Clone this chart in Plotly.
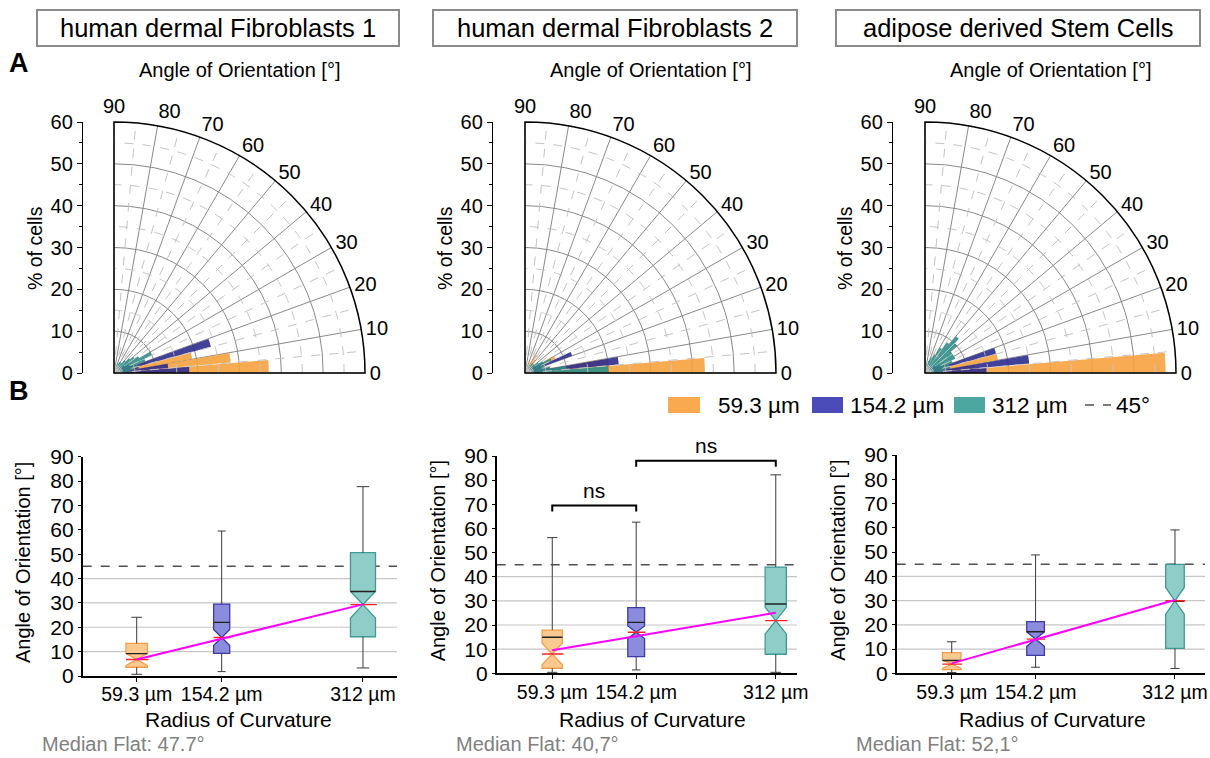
import numpy as np
import plotly.graph_objects as go

W, H = 1210, 758
FONT = "Liberation Sans, Arial, sans-serif"

# ---------------- data ----------------
panel_titles = ["human dermal Fibroblasts 1", "human dermal Fibroblasts 2", "adipose derived Stem Cells"]
radii = [59.3, 154.2, 312]
radius_labels = ["59.3 µm", "154.2 µm", "312 µm"]
angle_ticks = [0, 10, 20, 30, 40, 50, 60, 70, 80, 90]
cells_ticks = [0, 10, 20, 30, 40, 50, 60]
bin_centers = [2.5, 7.5, 12.5, 17.5, 22.5, 27.5, 32.5, 37.5, 42.5,
               47.5, 52.5, 57.5, 62.5, 67.5, 72.5, 77.5, 82.5, 87.5]

# rose histograms (% of cells per 5° bin)
rose_hdf1_593 = [37, 28, 19, 8, 4, 3, 2, 1.5, 1, 1, 0.5, 0.5, 0.5, 0, 0, 0, 0, 0]
rose_hdf1_1542 = [18, 13, 6, 24, 5, 4, 3, 2, 2, 1.5, 1, 1, 1, 1, 0.5, 0.5, 0.5, 0.5]
rose_hdf1_312 = [3, 4, 5, 6, 8, 10, 7, 6, 5, 4, 3, 3, 3, 2.5, 2, 2, 1.5, 1.5]

rose_hdf2_593 = [43, 20, 6, 3, 4, 8, 3, 2, 2, 1, 4, 5, 3, 1, 1, 0.5, 0.5, 0.5]
rose_hdf2_1542 = [5, 22.5, 6, 4, 12, 5, 3, 2, 2, 1, 1, 1, 1, 0.5, 0.5, 0.5, 0.5, 0.5]
rose_hdf2_312 = [20, 10, 6, 5, 5, 7, 5, 4, 3, 3, 3, 2, 2, 2, 1.5, 1, 1, 1]

rose_adsc_593 = [57.5, 12, 17.7, 5, 3, 2, 2, 1, 1, 1, 0.5, 0.5, 0.5, 0, 0, 0, 0, 0]
rose_adsc_1542 = [14.7, 25, 6, 17.6, 5, 4, 3, 2, 2, 1.5, 1, 1, 1, 0.5, 0.5, 0.5, 0.5, 0.5]
rose_adsc_312 = [4, 5, 6, 6, 7, 8, 8, 8, 10, 11.5, 9, 7, 5, 4, 3, 2, 1.5, 1]

# box statistics (angle of orientation, degrees)
hdf1_q1 = [3.6, 9.3, 16.1]
hdf1_median = [6.8, 15.8, 29.3]
hdf1_q3 = [13.4, 29.5, 50.6]
hdf1_mean = [9.2, 22.0, 34.7]
hdf1_low = [0.7, 1.8, 3.3]
hdf1_high = [24.1, 59.5, 77.7]
hdf1_notch = [2.5, 3.3, 5.5]
hdf1_trend = [6.8, 29.4]

hdf2_q1 = [2.1, 6.9, 7.9]
hdf2_median = [8.0, 17.0, 21.8]
hdf2_q3 = [17.9, 27.2, 44.0]
hdf2_mean = [14.9, 21.1, 28.7]
hdf2_low = [0.4, 1.4, 0.4]
hdf2_high = [56.2, 62.6, 82.2]
hdf2_notch = [4.5, 2.6, 5.5]
hdf2_trend = [9.5, 25.1]

adsc_q1 = [1.5, 7.4, 10.3]
adsc_median = [3.8, 14.1, 29.9]
adsc_q3 = [8.5, 21.3, 44.9]
adsc_mean = [5.3, 17.1, 29.7]
adsc_low = [0.3, 2.5, 2.0]
adsc_high = [13.0, 48.8, 59.1]
adsc_notch = [1.8, 3.0, 5.5]
adsc_trend = [4.1, 30.2]

trend_x = [59.3, 312]
grid_lines = [10, 20, 30, 40]
reference_angle = 45
median_flat = ["Median Flat: 47.7°", "Median Flat: 40,7°", "Median Flat: 52,1°"]
ns_pairs = [(59.3, 154.2, 69.5), (154.2, 312, 88.0)]

roses = [
    [rose_hdf1_593, rose_hdf1_1542, rose_hdf1_312],
    [rose_hdf2_593, rose_hdf2_1542, rose_hdf2_312],
    [rose_adsc_593, rose_adsc_1542, rose_adsc_312],
]
boxes = [
    dict(q1=hdf1_q1, med=hdf1_median, q3=hdf1_q3, mean=hdf1_mean, lo=hdf1_low, hi=hdf1_high, notch=hdf1_notch, trend=hdf1_trend),
    dict(q1=hdf2_q1, med=hdf2_median, q3=hdf2_q3, mean=hdf2_mean, lo=hdf2_low, hi=hdf2_high, notch=hdf2_notch, trend=hdf2_trend),
    dict(q1=adsc_q1, med=adsc_median, q3=adsc_q3, mean=adsc_mean, lo=adsc_low, hi=adsc_high, notch=adsc_notch, trend=adsc_trend),
]

# ---------------- style / layout ----------------
rose_colors = ["#F7A23F", "#2E2C8E", "#2B8F89"]
legend_colors = ["#F9A94E", "#4A4AB8", "#4DA7A1"]
box_fill = ["#F9C990", "#8C8CDC", "#8FCDC9"]
box_line = ["#F0A04B", "#3B3BAA", "#3D9A94"]
box_widths = [[24, 18, 28], [23, 19, 24], [21, 20, 21]]

polar_origin_x = [114, 525, 925]
polar_r_px = 251
polar_origin_y = 373
cells_axis_x = [83, 493, 893]
box_px_x = [(82.7, 397), (496.7, 797), (896.7, 1205)]
box_px_y = [(456.7, 676), (456, 673.3), (455, 673.3)]
box_xrange = [[-1, 350], [-3.5, 336], [-3, 346]]


def px(x):
    return x / W


def py(y):
    return 1 - y / H


def note(text, x, y, size, color="black", angle=0, xanchor="center", yanchor="middle"):
    return dict(text=text, x=px(x), y=py(y), xref="paper", yref="paper", showarrow=False,
                xanchor=xanchor, yanchor=yanchor, textangle=angle,
                font=dict(size=size, color=color, family=FONT))


fig = go.Figure()
annotations = []
shapes = []

minor_r = [5, 15, 25, 35, 45, 55]
minor_theta = [5, 15, 25, 35, 45, 55, 65, 75, 85]
arc_theta = list(np.linspace(0, 90, 91))

for i in range(3):
    sp = "polar" if i == 0 else f"polar{i+1}"
    # bars
    for k in range(3):
        fig.add_trace(go.Barpolar(
            r=roses[i][k], theta=bin_centers, width=4.6,
            marker=dict(color=rose_colors[k], line=dict(width=0)),
            opacity=0.9, subplot=sp, showlegend=False, hoverinfo="skip"))
    # dashed minor grid
    rr, tt = [], []
    for r in minor_r:
        rr += [r] * len(arc_theta) + [None]
        tt += arc_theta + [None]
    for t in minor_theta:
        rr += [0, 60, None]
        tt += [t, t, None]
    fig.add_trace(go.Scatterpolar(r=rr, theta=tt, mode="lines",
                                  line=dict(color="#c4c4c4", width=1, dash="dash"),
                                  subplot=sp, showlegend=False, hoverinfo="skip"))

    x0 = polar_origin_x[i]
    dom = dict(x=[px(x0), px(x0 + polar_r_px)], y=[py(polar_origin_y), py(polar_origin_y - polar_r_px)])
    fig.update_layout(**{sp: dict(
        domain=dom, sector=[0, 90], bgcolor="white", barmode="overlay",
        radialaxis=dict(range=[0, 60], tickmode="array", tickvals=cells_ticks[1:],
                        showticklabels=False, ticks="", showline=False,
                        gridcolor="#8a8a8a", gridwidth=1),
        angularaxis=dict(tickmode="array", tickvals=angle_ticks,
                         ticktext=[str(a) for a in angle_ticks],
                         direction="counterclockwise", rotation=0,
                         showline=True, linecolor="black", linewidth=1.5,
                         gridcolor="#8a8a8a", gridwidth=1, ticks="",
                         tickfont=dict(size=20, color="black", family=FONT)),
    )})

    # left "% of cells" axis (cartesian)
    xa = f"xaxis{i+4}"
    ya = f"yaxis{i+4}"
    fig.add_trace(go.Scatter(x=[0], y=[0], xaxis=f"x{i+4}", yaxis=f"y{i+4}",
                             mode="markers", marker=dict(opacity=0),
                             showlegend=False, hoverinfo="skip"))
    fig.update_layout(**{
        xa: dict(domain=[px(cells_axis_x[i]), px(cells_axis_x[i] + 10)], visible=False, range=[0, 1],
                 anchor=f"y{i+4}", automargin=False),
        ya: dict(domain=dom["y"], range=[0, 60], anchor=f"x{i+4}", side="left", automargin=False,
                 tickmode="array", tickvals=cells_ticks, showline=True, linecolor="black",
                 linewidth=1.3, ticks="outside", ticklen=5, tickcolor="black",
                 minor=dict(tickvals=[5, 15, 25, 35, 45, 55], ticks="outside", ticklen=3, tickcolor="black"),
                 showgrid=False, zeroline=False,
                 tickfont=dict(size=20, color="black", family=FONT)),
    })
    annotations.append(note("% of cells", cells_axis_x[i] - 48, 248, 19.5, angle=-90))
    annotations.append(note("Angle of Orientation [°]", x0 + 125, 70, 20))

    # title box
    bx0, bx1 = [(37, 399), (433, 797), (836, 1200)][i]
    shapes.append(dict(type="rect", xref="paper", yref="paper", x0=px(bx0), x1=px(bx1), y0=py(46), y1=py(10),
                       line=dict(color="#8a8a8a", width=2), fillcolor="white"))
    annotations.append(note(panel_titles[i], (bx0 + bx1) / 2, 28, 25.5))

    # ---------- box plots ----------
    xr = f"x{i+1}" if i > 0 else "x"
    yr = f"y{i+1}" if i > 0 else "y"
    b = boxes[i]
    whx, why = [], []
    for j in range(3):
        c = radii[j]
        hw = box_widths[i][j] * 0.25
        whx += [c, c, None, c, c, None, c - hw, c + hw, None, c - hw, c + hw, None]
        why += [b["q3"][j], b["hi"][j], None, b["lo"][j], b["q1"][j], None,
                b["hi"][j], b["hi"][j], None, b["lo"][j], b["lo"][j], None]
    fig.add_trace(go.Scatter(x=whx, y=why, xaxis=xr, yaxis=yr, mode="lines",
                             line=dict(color="#3a3a3a", width=1), showlegend=False, hoverinfo="skip"))
    for j in range(3):
        fig.add_trace(go.Box(
            x=[radii[j]], q1=[b["q1"][j]], median=[b["med"][j]], q3=[b["q3"][j]],
            lowerfence=[b["q1"][j]], upperfence=[b["q3"][j]], notchspan=[b["notch"][j]],
            notched=True, notchwidth=0.5, width=box_widths[i][j], whiskerwidth=0,
            fillcolor=box_fill[j], line=dict(color=box_line[j], width=1.3),
            boxpoints=False, xaxis=xr, yaxis=yr, showlegend=False, hoverinfo="skip"))
    mx, my, rx, ry = [], [], [], []
    for j in range(3):
        c = radii[j]
        hw = box_widths[i][j] / 2
        mx += [c - hw, c + hw, None]
        my += [b["mean"][j], b["mean"][j], None]
        rx += [c - hw, c + hw * 1.1, None]
        ry += [b["med"][j], b["med"][j], None]
    fig.add_trace(go.Scatter(x=mx, y=my, xaxis=xr, yaxis=yr, mode="lines",
                             line=dict(color="#222222", width=1.4), showlegend=False, hoverinfo="skip"))
    fig.add_trace(go.Scatter(x=rx, y=ry, xaxis=xr, yaxis=yr, mode="lines",
                             line=dict(color="#FF2020", width=1.4), showlegend=False, hoverinfo="skip"))
    fig.add_trace(go.Scatter(x=trend_x, y=b["trend"], xaxis=xr, yaxis=yr, mode="lines",
                             line=dict(color="#FF00FF", width=2), showlegend=False, hoverinfo="skip"))

    (bxa, bxb), (bya, byb) = box_px_x[i], box_px_y[i]
    fig.update_layout(**{
        ("xaxis" if i == 0 else f"xaxis{i+1}"): dict(
            domain=[px(bxa), px(bxb)], range=box_xrange[i], anchor=yr, automargin=False,
            tickmode="array", tickvals=radii, ticktext=radius_labels,
            showline=True, linecolor="black", linewidth=1.6, ticks="outside", ticklen=4,
            tickcolor="black", showgrid=False, zeroline=False, ticklabelstandoff=-4,
            tickfont=dict(size=19.5, color="black", family=FONT)),
        ("yaxis" if i == 0 else f"yaxis{i+1}"): dict(
            domain=[py(byb), py(bya)], range=[0, 90], anchor=xr, automargin=False,
            tickmode="array", tickvals=angle_ticks,
            showline=True, linecolor="black", linewidth=1.6, ticks="outside", ticklen=3,
            tickcolor="black", showgrid=False, zeroline=False,
            tickfont=dict(size=21, color="black", family=FONT)),
    })
    for g in grid_lines:
        shapes.append(dict(type="line", xref=f"{xr} domain", yref=yr, x0=0, x1=1, y0=g, y1=g,
                           line=dict(color="#c6c6c6", width=1.2), layer="below"))
    shapes.append(dict(type="line", xref=f"{xr} domain", yref=yr, x0=0, x1=1,
                       y0=reference_angle, y1=reference_angle,
                       line=dict(color="#505050", width=1.5, dash="dash"), layer="below"))
    annotations.append(note("Angle of Orientation [°]", bxa - 59, (bya + byb) / 2 - 4, 20, angle=-90))
    annotations.append(note("Radius of Curvature", bxa + 156, 719, 21))
    annotations.append(note(median_flat[i], bxa - 43, 744, 20, color="#808080", xanchor="left"))

# significance brackets (panel 2)
bkx, bky = [], []
for a, c, yv in ns_pairs:
    bkx += [a, a, c, c, None]
    bky += [yv - 2.5, yv, yv, yv - 2.5, None]
    annotations.append(dict(text="ns", x=(a + c) / 2, y=yv + 0.8, xref="x2", yref="y2", yanchor="bottom",
                            xanchor="center", showarrow=False, font=dict(size=21, color="black", family=FONT)))
fig.add_trace(go.Scatter(x=bkx, y=bky, xaxis="x2", yaxis="y2", mode="lines",
                         line=dict(color="black", width=2), showlegend=False, hoverinfo="skip", cliponaxis=False))

# panel letters
annotations.append(note("<b>A</b>", 19, 63, 27))
annotations.append(note("<b>B</b>", 19, 391, 27))

# manual legend
leg_rects = [(668, 700), (812, 843), (954, 985)]
leg_text_x = [716, 848, 990]
for k in range(3):
    shapes.append(dict(type="rect", xref="paper", yref="paper", x0=px(leg_rects[k][0]), x1=px(leg_rects[k][1]),
                       y0=py(413), y1=py(397), line=dict(width=0), fillcolor=legend_colors[k]))
    annotations.append(note(radius_labels[k], leg_text_x[k], 405, 22.5, xanchor="left"))
shapes.append(dict(type="line", xref="paper", yref="paper", x0=px(1085), x1=px(1111), y0=py(405), y1=py(405),
                   line=dict(color="#505050", width=1.5, dash="dash")))
annotations.append(note(f"{reference_angle}°", 1114, 405, 22.5, xanchor="left"))

fig.update_layout(
    width=W, height=H, margin=dict(l=0, r=0, t=0, b=0, pad=0, autoexpand=False),
    paper_bgcolor="white", plot_bgcolor="white",
    font=dict(family=FONT, color="black"),
    showlegend=False, boxmode="overlay",
    annotations=annotations, shapes=shapes,
)

fig.write_html("out.html")
